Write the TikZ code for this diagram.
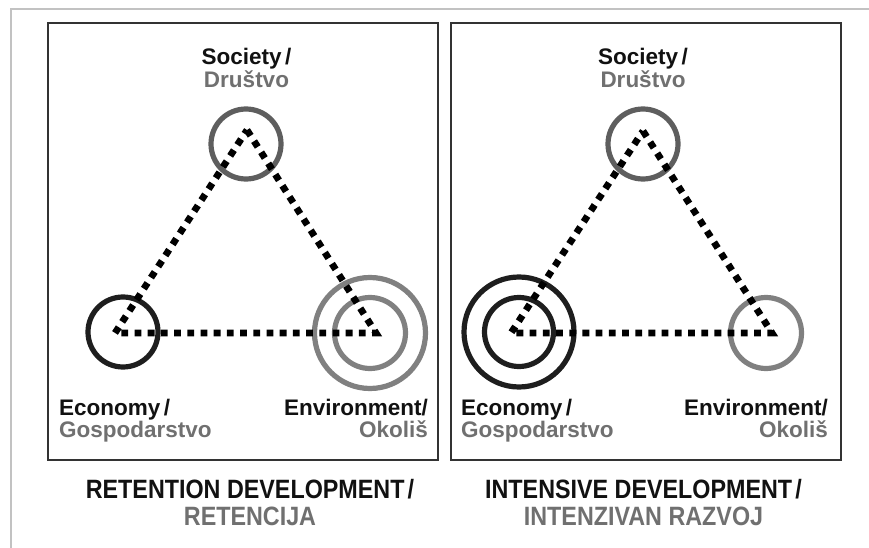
\documentclass[tikz,border=0pt]{standalone}
\usepackage{fontspec}
\setmainfont{Liberation Sans}
\newfontfamily\titlefont[FakeStretch=0.88]{Liberation Sans}
\definecolor{inkdark}{HTML}{111111}
\definecolor{inkgray}{HTML}{707070}
\definecolor{ringdark}{HTML}{1E1E1E}
\definecolor{ringmid}{HTML}{5E5E5E}
\definecolor{ringlight}{HTML}{808080}
\definecolor{framegray}{HTML}{C2C2C2}
\definecolor{panelline}{HTML}{333333}
\begin{document}
\begin{tikzpicture}[x=1pt,y=-1pt,
  panel/.style={draw=panelline, line width=1.6pt},
  ring/.style={circle, draw, line width=5.2pt, inner sep=0pt, outer sep=0pt},
  dotline/.style={draw=black, line width=6.8pt, dash pattern=on 6.8pt off 6.4pt, line join=miter},
  lbl/.style={inner sep=0pt, text=inkdark, font=\fontsize{22.5}{26}\selectfont\bfseries},
  lblgray/.style={lbl, text=inkgray},
  ttl/.style={inner sep=0pt, text=inkdark, font=\titlefont\fontsize{26.5}{30}\selectfont\bfseries},
  ttlgray/.style={ttl, text=inkgray}]
\useasboundingbox (0,0) rectangle (869,548);
\fill[white] (0,0) rectangle (869,548);
% outer frame (top and left edges)
\draw[framegray, line width=2pt] (11,548) -- (11,9.5) -- (869,9.5);

% ---------- left panel: retention development ----------
\draw[panel] (48,23) rectangle (438,460);
\node[ring, draw=ringmid, minimum size=70pt] (Lsoc) at (246,144) {};
\node[ring, draw=ringdark, minimum size=70pt] (Leco) at (123,332) {};
\node[ring, draw=ringlight, minimum size=71pt] (Lenv) at (370,333) {};
\node[ring, draw=ringlight, minimum size=111pt] (LenvOuter) at (370,333) {};
\coordinate (Lapex) at (247,130);
\coordinate (Lecov) at (115,333);
\coordinate (Lenvv) at (376,333);
\draw[dotline] (Lapex) -- (Lenvv) -- (Lecov) -- cycle;
\node[lbl, anchor=base] (LsocEn) at (246.5,65) {Society\hspace{0.15em}/};
\node[lblgray, anchor=base] (LsocSl) at (246.5,88) {Društvo};
\node[lbl, anchor=base west] (LecoEn) at (59,415) {Economy\hspace{0.15em}/};
\node[lblgray, anchor=base west] (LecoSl) at (59,437) {Gospodarstvo};
\node[lbl, anchor=base east] (LenvEn) at (428,415) {Environment/};
\node[lblgray, anchor=base east] (LenvSl) at (428,437) {Okoliš};
\node[ttl, anchor=base] (Ltitle) at (250,498) {RETENTION DEVELOPMENT\hspace{0.12em}/};
\node[ttlgray, anchor=base] (LtitleSl) at (250,525) {RETENCIJA};

% ---------- right panel: intensive development ----------
\draw[panel] (451,23) rectangle (841,460);
\node[ring, draw=ringmid, minimum size=70pt] (Rsoc) at (643,144) {};
\node[ring, draw=ringdark, minimum size=69pt] (Reco) at (519,332) {};
\node[ring, draw=ringdark, minimum size=110pt] (RecoOuter) at (519,332) {};
\node[ring, draw=ringlight, minimum size=71pt] (Renv) at (766,333) {};
\coordinate (Rapex) at (643,131);
\coordinate (Recov) at (511,333);
\coordinate (Renvv) at (772,333);
\draw[dotline] (Rapex) -- (Renvv) -- (Recov) -- cycle;
\node[lbl, anchor=base] (RsocEn) at (643,65) {Society\hspace{0.15em}/};
\node[lblgray, anchor=base] (RsocSl) at (643,88) {Društvo};
\node[lbl, anchor=base west] (RecoEn) at (461,415) {Economy\hspace{0.15em}/};
\node[lblgray, anchor=base west] (RecoSl) at (461,437) {Gospodarstvo};
\node[lbl, anchor=base east] (RenvEn) at (828,415) {Environment/};
\node[lblgray, anchor=base east] (RenvSl) at (828,437) {Okoliš};
\node[ttl, anchor=base] (Rtitle) at (643.5,498) {INTENSIVE DEVELOPMENT\hspace{0.12em}/};
\node[ttlgray, anchor=base] (RtitleSl) at (643.5,525) {INTENZIVAN RAZVOJ};
\end{tikzpicture}
\end{document}
